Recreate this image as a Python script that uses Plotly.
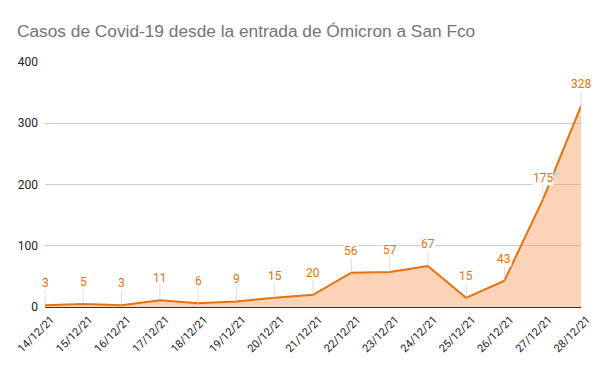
import plotly.graph_objects as go

fechas = ["14/12/21", "15/12/21", "16/12/21", "17/12/21", "18/12/21", "19/12/21",
          "20/12/21", "21/12/21", "22/12/21", "23/12/21", "24/12/21", "25/12/21",
          "26/12/21", "27/12/21", "28/12/21"]
casos = [3, 5, 3, 11, 6, 9, 15, 20, 56, 57, 67, 15, 43, 175, 328]
y_ticks = [0, 100, 200, 300, 400]

ORANGE = "#e8710a"

fig = go.Figure()
fig.add_trace(go.Scatter(
    x=list(range(len(fechas))), y=casos, mode="lines",
    line=dict(color=ORANGE, width=2),
    fill="tozeroy", fillcolor="rgba(245,150,80,0.42)",
    hoverinfo="skip", showlegend=False,
))

for i, v in enumerate(casos):
    fig.add_annotation(
        x=i, y=v, text=str(v), showarrow=True, arrowhead=0, arrowwidth=1,
        arrowcolor="rgba(200,200,200,0.6)", ax=0, ay=-22, standoff=0,
        font=dict(family="Roboto, Liberation Sans, Arial", size=12, color=ORANGE),
        bgcolor="rgba(255,255,255,0.9)", borderpad=0,
    )

fig.update_layout(
    width=600, height=371,
    margin=dict(l=45, r=19, t=62, b=64, autoexpand=False),
    paper_bgcolor="white", plot_bgcolor="white",
    title=dict(text="Casos de Covid-19 desde la entrada de Ómicron a San Fco",
               xref="container", x=17 / 600, xanchor="left",
               yref="container", y=1 - 31 / 371, yanchor="middle",
               font=dict(family="Liberation Sans, Arial", size=17.3, color="#757575"),
               automargin=False),
    xaxis=dict(
        tickmode="array", tickvals=list(range(len(fechas))), ticktext=fechas,
        range=[0, len(fechas) - 1], tickangle=-45, showgrid=False, zeroline=False,
        showline=False, ticks="", automargin=False,
        ticklabelshift=6, ticklabelstandoff=3,
        tickfont=dict(family="Roboto, Liberation Sans, Arial", size=11, color="#222222"),
    ),
    yaxis=dict(
        range=[0, 400], tickvals=y_ticks, showgrid=True, gridcolor="#cccccc",
        gridwidth=1, zeroline=True, zerolinecolor="#333333", zerolinewidth=1,
        automargin=False,
        tickfont=dict(family="Roboto, Liberation Sans, Arial", size=12, color="#222222"),
        ticklabelstandoff=6,
    ),
)

fig.write_html("out.html", config={"displayModeBar": False},
               post_script="document.body.style.margin='0';document.body.style.overflow='hidden';")
